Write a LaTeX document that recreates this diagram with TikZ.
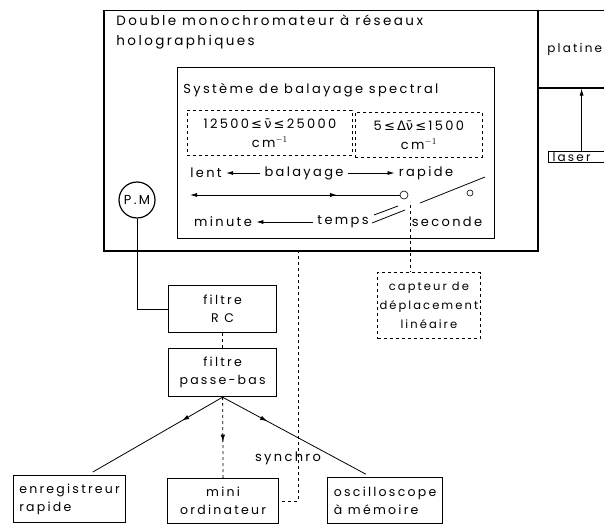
\documentclass[tikz,border=0pt]{standalone}
\usepackage{amsmath}
\usepackage{fontspec}
\setmainfont{Poppins}[LetterSpace=18]
\newfontfamily\symb{DejaVu Sans}
\usetikzlibrary{positioning,arrows.meta,decorations.markings}

\tikzset{
  cadre/.style={draw, line width=1.5pt, inner sep=0pt},
  bloc/.style={draw, line width=1.2pt, align=center, inner sep=2pt, font=\fontsize{12.5}{18}\selectfont},
  plage/.style={draw, dashed, line width=0.8pt, align=center, inner sep=0pt, font=\fontsize{13}{19}\selectfont},
  texte/.style={inner sep=0pt, font=\fontsize{13}{20}\selectfont},
  pointe/.style={-{Latex[length=7pt,width=4pt]}},
  milieu/.style={postaction={decorate}, decoration={markings, mark=at position #1 with {\arrow{Latex[length=7pt,width=4.5pt]}}}},
}

\begin{document}
\begin{tikzpicture}[x=1pt,y=-1pt,line width=0.8pt]
\useasboundingbox (0,0) rectangle (604,527);
% monochromateur
\node[cadre, minimum width=434pt, minimum height=240pt, anchor=north west] (mono) at (103,10) {};
\node[texte, anchor=north west, align=left, font=\fontsize{13.5}{20}\selectfont] (titre) at (116,15) {Double monochromateur à réseaux\\holographiques};
% platine et laser
\node[cadre, minimum width=74pt, minimum height=77pt, anchor=north west, font=\fontsize{12}{14}\selectfont] (platine) at (537,10) {platine};
\node[bloc, anchor=west, text width=58pt, align=left, inner xsep=4pt, inner ysep=1pt, font=\fontsize{12}{14}\selectfont] (laser) at (548,157) {laser};
\draw[pointe] (laser) -- (laser |- platine.south);
% balayage
\node[cadre, line width=1.2pt, minimum width=317pt, minimum height=171pt, anchor=north west] (systeme) at (177,67) {};
\node[texte, anchor=west] (titresys) at (183,90) {Système de balayage spectral};
\node[plage, minimum width=165pt, minimum height=45pt, anchor=north west] (nu) at (187,110) {12500\,{\symb ≤\,ν̄\,≤}\,25000\\cm$^{-1}$};
\node[plage, minimum width=127pt, minimum height=45pt, anchor=north west] (dnu) at (355,112) {5\,{\symb ≤\,Δν̄\,≤}\,1500\\cm$^{-1}$};
\node[texte, inner xsep=4pt] (lent) at (206,173) {lent};
\node[texte, inner xsep=4pt] (balai) at (304,173) {balayage};
\node[texte, inner xsep=4pt] (rapide) at (426,173) {rapide};
\draw[pointe] (balai) -- (lent);
\draw[pointe] (balai) -- (rapide);
\coordinate (depart) at (190,195);
\node[draw, circle, minimum size=8pt, inner sep=0pt, line width=0.6pt] (plot) at (404,195) {};
\draw[{Latex[length=7pt,width=4pt]}-, milieu=0.7] (depart) -- (plot.west);
\draw (420,203) -- (485,177);
\node[draw, circle, minimum size=6pt, inner sep=0pt, line width=0.6pt] (plotb) at (470,193) {};
\node[texte, inner xsep=4pt] (minute) at (223,222) {minute};
\node[texte, inner xsep=4pt] (temps) at (343,222) {temps};
\node[texte, inner xsep=4pt] (seconde) at (447,222) {seconde};
\draw[pointe] (temps) -- (minute);
\draw (372,223) -- (405,210);
\draw (374,215) -- (398,206);
% capteur
\node[bloc, dashed, minimum width=101pt, minimum height=66pt, anchor=north west, font=\fontsize{11.5}{19}\selectfont] (capteur) at (377,272) {capteur de\\déplacement\\linéaire};
\coordinate (curseur) at (410,205);
\draw[dashed] (curseur) -- (curseur |- capteur.north);
% detection
\node[draw, circle, line width=1.2pt, minimum size=36pt, inner sep=0pt, font=\fontsize{13}{15}\selectfont] (pm) at (137,200) {P.M};
\node[bloc, minimum width=108pt, minimum height=47pt, anchor=north west] (rc) at (168,285) {filtre\\R C};
\node[bloc, minimum width=108pt, minimum height=48pt, anchor=north west] (pb) at (168,348) {filtre\\passe-bas};
\draw (pm.south) |- (rc.west);
\draw[dashed] (rc) -- (pb);
% sorties
\node[bloc, align=left, minimum width=112pt, minimum height=47pt, anchor=north west] (enr) at (13,475) {enregistreur\\rapide};
\node[bloc, minimum width=111pt, minimum height=45pt, anchor=north west] (mini) at (167,478) {mini\\ordinateur};
\node[bloc, align=left, minimum width=115pt, minimum height=46pt, anchor=north west] (osc) at (327,477) {oscilloscope\\à mémoire};
\draw[milieu=0.3, shorten >=6pt] (pb.south) -- ([xshift=18pt]enr.north);
\draw[dashed, milieu=0.55] (pb.south) -- (mini.north);
\draw[milieu=0.3, shorten >=6pt] (pb.south) -- ([xshift=-14pt]osc.north);
\coordinate (sortie) at (298,250);
\draw[dashed] (sortie) |- (mini.east);
\node[texte] (synchro) at (288,458) {synchro};
\end{tikzpicture}
\end{document}
